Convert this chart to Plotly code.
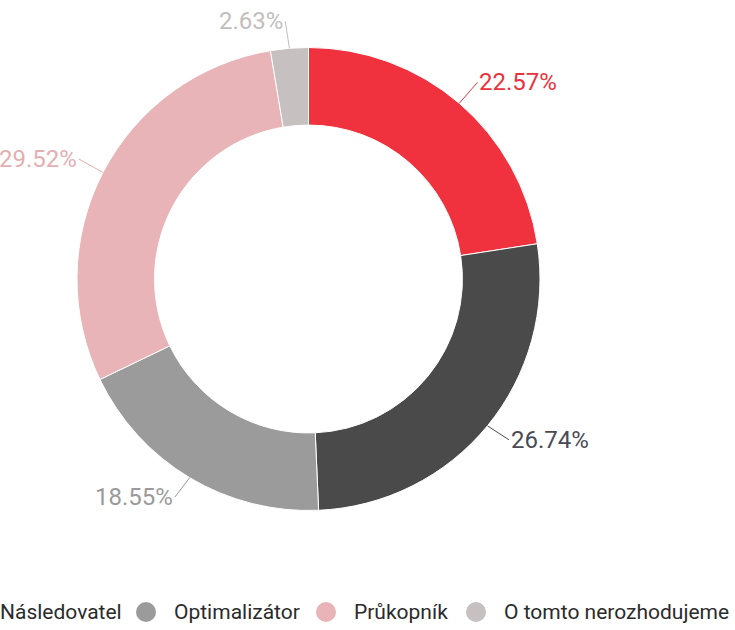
import math
import plotly.graph_objects as go

# ---- data ----
labels = ["Inovátor", "Následovatel", "Optimalizátor", "Průkopník", "O tomto nerozhodujeme"]
values = [22.57, 26.74, 18.55, 29.52, 2.63]
slice_colors = ["#f0323f", "#4a4a4a", "#9b9b9b", "#e8b4b7", "#c6c0c0"]
label_colors = ["#e8323c", "#4a4a55", "#9a9a9a", "#e3afb3", "#c3bdbd"]

# ---- layout geometry (pixels) ----
W, H = 735, 630
CX, CY, R = 308.5, 279.0, 231.5
HOLE = 0.665
FONT = "Roboto, 'Noto Sans', sans-serif"

fig = go.Figure()
fig.add_trace(go.Pie(
    labels=labels, values=values, sort=False, direction="clockwise", rotation=0,
    hole=HOLE, textinfo="none", showlegend=False,
    marker=dict(colors=slice_colors, line=dict(color="white", width=1)),
    domain=dict(x=[(CX - R) / W, (CX + R) / W], y=[(H - CY - R) / H, (H - CY + R) / H]),
    hovertemplate="%{label}: %{value:.2f}%<extra></extra>",
))

# ---- outside labels with leader lines, computed from the values ----
total = sum(values)
annotations = []
cum = 0.0
D = 25
for v, c in zip(values, label_colors):
    mid = (cum + v / 2) / total * 2 * math.pi
    cum += v
    s, co = math.sin(mid), math.cos(mid)
    px, py = CX + R * s, CY - R * co
    right = s >= 0
    annotations.append(dict(
        x=px / W, y=1 - py / H, xref="paper", yref="paper",
        text=f"{v:.2f}%", showarrow=True, arrowhead=0, arrowwidth=1, arrowcolor=c,
        ax=D * s + (2 if right else -2), ay=-D * co - 2, standoff=0,
        xanchor="left" if right else "right", yanchor="middle",
        font=dict(family=FONT, size=24, color=c),
    ))

# ---- legend drawn manually (its first entries run past the left edge) ----
legend_text_x = [-95, -2, 172, 352, 502]
legend_y = 612
dot_r = 10
shapes = []
for name, col, tx in zip(labels, slice_colors, legend_text_x):
    cx = tx - 26
    shapes.append(dict(type="circle", xref="paper", yref="paper",
                       x0=(cx - dot_r) / W, x1=(cx + dot_r) / W,
                       y0=1 - (legend_y + dot_r) / H, y1=1 - (legend_y - dot_r) / H,
                       fillcolor=col, line=dict(width=0)))
    annotations.append(dict(x=tx / W, y=1 - legend_y / H, xref="paper", yref="paper",
                            text=name, showarrow=False, xanchor="left", yanchor="middle",
                            font=dict(family=FONT, size=21, color="#2b2b2b")))

fig.update_layout(
    width=W, height=H, margin=dict(l=0, r=0, t=0, b=0),
    paper_bgcolor="white", plot_bgcolor="white",
    annotations=annotations, shapes=shapes,
)
fig.write_html("out.html", config={"displayModeBar": False},
               post_script="document.body.style.margin='0';")
